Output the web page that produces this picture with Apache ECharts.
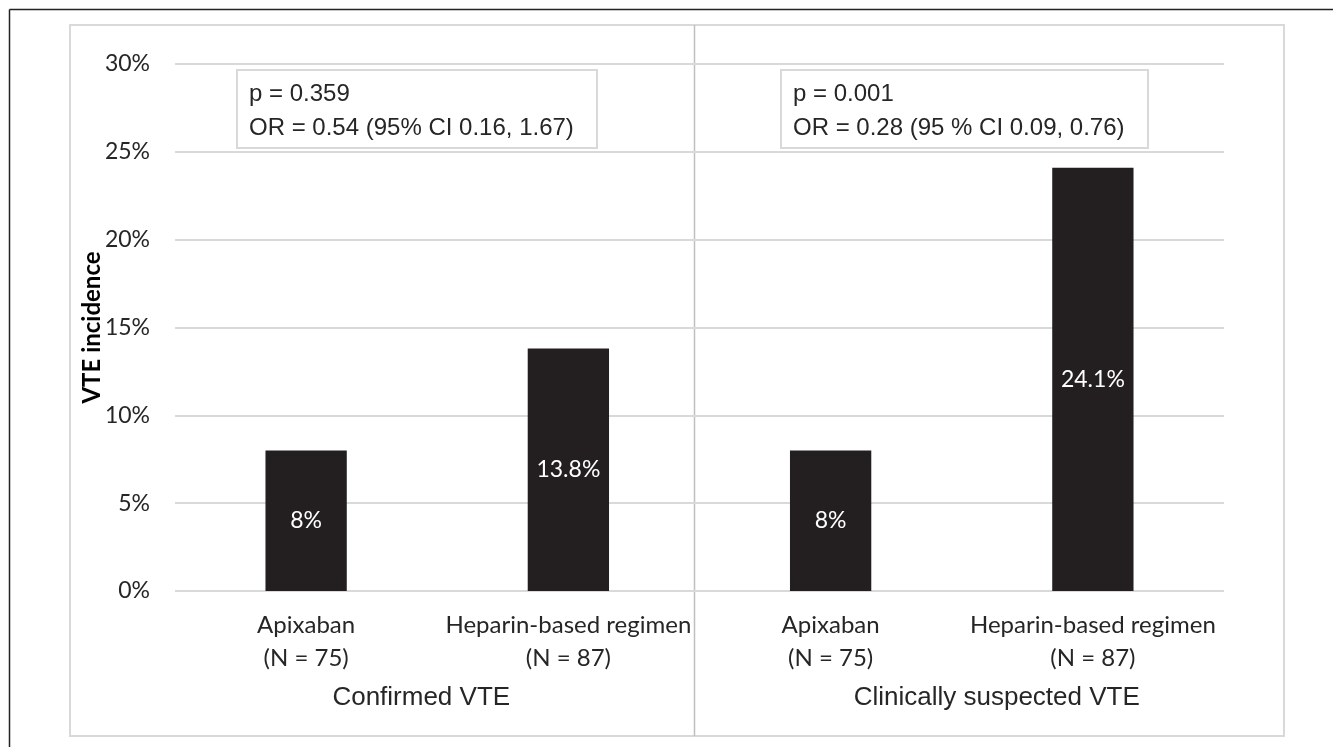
<!DOCTYPE html>
<html><head><meta charset="utf-8">
<script src="https://cdn.jsdelivr.net/npm/echarts@6/dist/echarts.min.js"></script>
<style>html,body{margin:0;padding:0;background:#fff}#c{width:1333px;height:747px}</style>
</head><body><div id="c"></div>
<script>
const categories = ['Apixaban\n(N = 75)', 'Heparin-based regimen\n(N = 87)', 'Apixaban\n(N = 75)', 'Heparin-based regimen\n(N = 87)'];
const groups = ['Confirmed VTE', 'Clinically suspected VTE'];
const values = [8, 13.8, 8, 24.1];
const valueLabels = ['8%', '13.8%', '8%', '24.1%'];
const annotations = [
  ['p = 0.359', 'OR = 0.54 (95% CI 0.16, 1.67)'],
  ['p = 0.001', 'OR = 0.28 (95 % CI 0.09, 0.76)']
];
const yTicks = [0, 5, 10, 15, 20, 25, 30];

const chart = echarts.init(document.getElementById('c'));
const labelFont = 'Lato, "Open Sans", sans-serif';
const arial = '"Liberation Sans", Arial, sans-serif';

function annot(x, y, w, lines) {
  return {
    type: 'group', left: x, top: y,
    children: [
      {type: 'rect', shape: {x: 0, y: 0, width: w, height: 78}, style: {fill: '#fff', stroke: '#d9d9d9', lineWidth: 2}},
      {type: 'text', x: 12, y: 7, style: {text: lines.join('\n'), fontFamily: arial, fontSize: 24, lineHeight: 34, fill: '#262626'}}
    ]
  };
}

const groupText = {color: '#262626', fontFamily: arial, fontSize: 26};

chart.setOption({
  animation: false,
  grid: {left: 175, right: 109, top: 64, bottom: 156},
  xAxis: [
    {type: 'category', data: categories, axisLine: {show: false}, axisTick: {show: false},
     axisLabel: {interval: 0, color: '#262626', fontFamily: labelFont, fontSize: 24, lineHeight: 33, margin: 18}},
    {type: 'category', data: groups, position: 'bottom', offset: 94, gridIndex: 0,
     axisLine: {show: false}, axisTick: {show: false},
     axisLabel: {interval: 0, margin: 0,
       formatter: (v, i) => (i === 0 ? '{a|' : '{b|') + v + '}',
       rich: {
         a: Object.assign({padding: [0, 32, 0, 0]}, groupText),
         b: Object.assign({padding: [0, 0, 0, 70]}, groupText)
       }}}
  ],
  yAxis: {
    type: 'value', min: 0, max: 30, interval: 5,
    name: 'VTE incidence', nameLocation: 'middle', nameGap: 71, nameRotate: 90, nameMoveOverlap: false,
    nameTextStyle: {fontFamily: labelFont, fontWeight: 'bold', fontSize: 24, color: '#000'},
    axisLine: {show: false}, axisTick: {show: false},
    axisLabel: {formatter: '{value}%', color: '#262626', fontFamily: labelFont, fontSize: 23, margin: 25},
    splitLine: {lineStyle: {color: '#d9d9d9', width: 2}}
  },
  series: [{
    type: 'bar', xAxisIndex: 0, data: values, barWidth: '31%',
    itemStyle: {color: '#231f20'},
    label: {show: true, position: 'inside', color: '#fff', fontFamily: labelFont, fontSize: 23,
      formatter: p => valueLabels[p.dataIndex]}
  }],
  graphic: [
    {type: 'rect', shape: {x: 70, y: 25, width: 1214, height: 711}, style: {fill: 'none', stroke: '#d9d9d9', lineWidth: 2}, z: -1},
    {type: 'line', shape: {x1: 9.5, y1: 9.5, x2: 1333, y2: 9.5}, style: {stroke: '#222', lineWidth: 1.5}},
    {type: 'line', shape: {x1: 9.5, y1: 9.5, x2: 9.5, y2: 747}, style: {stroke: '#222', lineWidth: 1.5}},
    {type: 'line', shape: {x1: 694.5, y1: 25, x2: 694.5, y2: 736}, style: {stroke: '#bfbfbf', lineWidth: 1.5}},
    annot(236, 69, 360, annotations[0]),
    annot(780, 69, 367, annotations[1])
  ]
});
</script></body></html>
